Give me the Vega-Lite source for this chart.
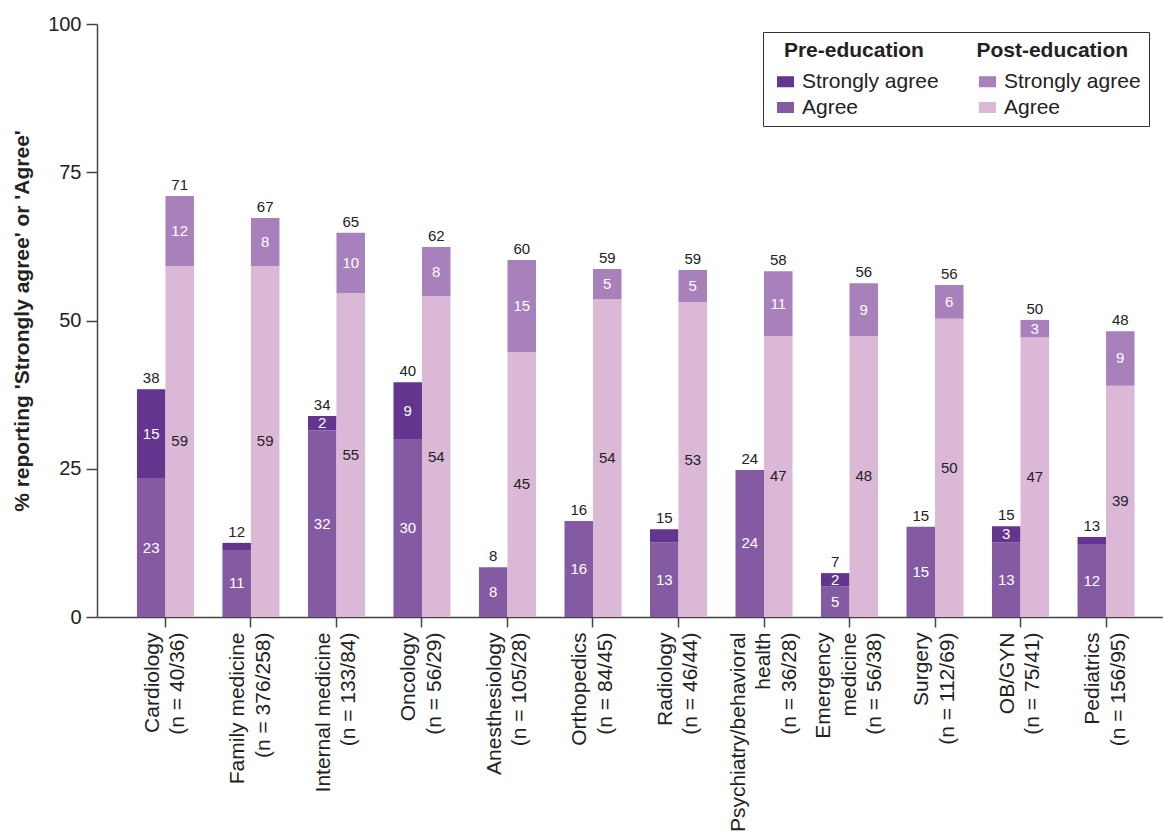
{
  "$schema": "https://vega.github.io/schema/vega-lite/v6.json",
  "width": 1066,
  "height": 593,
  "autosize": {"type": "none"},
  "padding": {"left": 97, "top": 24, "right": 0, "bottom": 214},
  "background": "white",
  "config": {
    "view": {"stroke": null},
    "font": "Liberation Sans",
    "axisY": {
      "domainColor": "#444", "domainWidth": 1.5, "tickColor": "#444", "tickWidth": 1.5, "tickSize": 11,
      "labelFontSize": 20, "labelColor": "#222", "labelPadding": 5, "grid": false,
      "titleFontSize": 21, "titleFontWeight": "bold", "titleColor": "#222", "titlePadding": 15
    },
    "axisX": {
      "domainColor": "#444", "domainWidth": 1.5, "tickColor": "#444", "tickWidth": 1.5, "tickSize": 10,
      "labelFontSize": 21, "labelColor": "#222", "labelAngle": -90, "labelPadding": 5,
      "labelLineHeight": 25.5, "labelLimit": 400, "grid": false
    },
    "legend": {
      "orient": "none", "legendX": 666, "legendY": 8, "columns": 2, "columnPadding": 34,
      "rowPadding": 4, "labelOffset": 6, "symbolOffset": 4, "padding": 8, "strokeColor": "#333", "fillColor": "white",
      "titleFontSize": 21, "titleFontWeight": "bold", "titleColor": "#222", "titleAnchor": "middle",
      "titleLimit": 500, "titlePadding": 10, "labelFontSize": 21, "labelColor": "#222", "labelLimit": 300,
      "symbolType": "M-1,-0.65H1V0.65H-1Z", "symbolSize": 289, "symbolStrokeWidth": 0, "symbolOpacity": 1
    }
  },
  "datasets": {
    "seg": [
      {"spec": "Cardiology\n(n = 40/36)", "period": "Pre", "series": "Pre: Agree", "value": 23.3, "label": "23"},
      {"spec": "Cardiology\n(n = 40/36)", "period": "Pre", "series": "Pre: Strongly agree", "value": 15.1, "label": "15"},
      {"spec": "Cardiology\n(n = 40/36)", "period": "Post", "series": "Post: Agree", "value": 59.2, "label": "59"},
      {"spec": "Cardiology\n(n = 40/36)", "period": "Post", "series": "Post: Strongly agree", "value": 11.8, "label": "12"},
      {"spec": "Family medicine\n(n = 376/258)", "period": "Pre", "series": "Pre: Agree", "value": 11.3, "label": "11"},
      {"spec": "Family medicine\n(n = 376/258)", "period": "Pre", "series": "Pre: Strongly agree", "value": 1.2, "label": ""},
      {"spec": "Family medicine\n(n = 376/258)", "period": "Post", "series": "Post: Agree", "value": 59.2, "label": "59"},
      {"spec": "Family medicine\n(n = 376/258)", "period": "Post", "series": "Post: Strongly agree", "value": 8.1, "label": "8"},
      {"spec": "Internal medicine\n(n = 133/84)", "period": "Pre", "series": "Pre: Agree", "value": 31.5, "label": "32"},
      {"spec": "Internal medicine\n(n = 133/84)", "period": "Pre", "series": "Pre: Strongly agree", "value": 2.4, "label": "2"},
      {"spec": "Internal medicine\n(n = 133/84)", "period": "Post", "series": "Post: Agree", "value": 54.6, "label": "55"},
      {"spec": "Internal medicine\n(n = 133/84)", "period": "Post", "series": "Post: Strongly agree", "value": 10.2, "label": "10"},
      {"spec": "Oncology\n(n = 56/29)", "period": "Pre", "series": "Pre: Agree", "value": 30.0, "label": "30"},
      {"spec": "Oncology\n(n = 56/29)", "period": "Pre", "series": "Pre: Strongly agree", "value": 9.6, "label": "9"},
      {"spec": "Oncology\n(n = 56/29)", "period": "Post", "series": "Post: Agree", "value": 54.1, "label": "54"},
      {"spec": "Oncology\n(n = 56/29)", "period": "Post", "series": "Post: Strongly agree", "value": 8.3, "label": "8"},
      {"spec": "Anesthesiology\n(n = 105/28)", "period": "Pre", "series": "Pre: Agree", "value": 8.4, "label": "8"},
      {"spec": "Anesthesiology\n(n = 105/28)", "period": "Post", "series": "Post: Agree", "value": 44.7, "label": "45"},
      {"spec": "Anesthesiology\n(n = 105/28)", "period": "Post", "series": "Post: Strongly agree", "value": 15.5, "label": "15"},
      {"spec": "Orthopedics\n(n = 84/45)", "period": "Pre", "series": "Pre: Agree", "value": 16.2, "label": "16"},
      {"spec": "Orthopedics\n(n = 84/45)", "period": "Post", "series": "Post: Agree", "value": 53.6, "label": "54"},
      {"spec": "Orthopedics\n(n = 84/45)", "period": "Post", "series": "Post: Strongly agree", "value": 5.1, "label": "5"},
      {"spec": "Radiology\n(n = 46/44)", "period": "Pre", "series": "Pre: Agree", "value": 12.6, "label": "13"},
      {"spec": "Radiology\n(n = 46/44)", "period": "Pre", "series": "Pre: Strongly agree", "value": 2.2, "label": ""},
      {"spec": "Radiology\n(n = 46/44)", "period": "Post", "series": "Post: Agree", "value": 53.1, "label": "53"},
      {"spec": "Radiology\n(n = 46/44)", "period": "Post", "series": "Post: Strongly agree", "value": 5.4, "label": "5"},
      {"spec": "Psychiatry/behavioral\nhealth\n(n = 36/28)", "period": "Pre", "series": "Pre: Agree", "value": 24.8, "label": "24"},
      {"spec": "Psychiatry/behavioral\nhealth\n(n = 36/28)", "period": "Post", "series": "Post: Agree", "value": 47.4, "label": "47"},
      {"spec": "Psychiatry/behavioral\nhealth\n(n = 36/28)", "period": "Post", "series": "Post: Strongly agree", "value": 10.9, "label": "11"},
      {"spec": "Emergency\nmedicine\n(n = 56/38)", "period": "Pre", "series": "Pre: Agree", "value": 5.2, "label": "5"},
      {"spec": "Emergency\nmedicine\n(n = 56/38)", "period": "Pre", "series": "Pre: Strongly agree", "value": 2.2, "label": "2"},
      {"spec": "Emergency\nmedicine\n(n = 56/38)", "period": "Post", "series": "Post: Agree", "value": 47.4, "label": "48"},
      {"spec": "Emergency\nmedicine\n(n = 56/38)", "period": "Post", "series": "Post: Strongly agree", "value": 8.9, "label": "9"},
      {"spec": "Surgery\n(n = 112/69)", "period": "Pre", "series": "Pre: Agree", "value": 15.2, "label": "15"},
      {"spec": "Surgery\n(n = 112/69)", "period": "Post", "series": "Post: Agree", "value": 50.3, "label": "50"},
      {"spec": "Surgery\n(n = 112/69)", "period": "Post", "series": "Post: Strongly agree", "value": 5.7, "label": "6"},
      {"spec": "OB/GYN\n(n = 75/41)", "period": "Pre", "series": "Pre: Agree", "value": 12.6, "label": "13"},
      {"spec": "OB/GYN\n(n = 75/41)", "period": "Pre", "series": "Pre: Strongly agree", "value": 2.7, "label": "3"},
      {"spec": "OB/GYN\n(n = 75/41)", "period": "Post", "series": "Post: Agree", "value": 47.2, "label": "47"},
      {"spec": "OB/GYN\n(n = 75/41)", "period": "Post", "series": "Post: Strongly agree", "value": 2.9, "label": "3"},
      {"spec": "Pediatrics\n(n = 156/95)", "period": "Pre", "series": "Pre: Agree", "value": 12.3, "label": "12"},
      {"spec": "Pediatrics\n(n = 156/95)", "period": "Pre", "series": "Pre: Strongly agree", "value": 1.2, "label": ""},
      {"spec": "Pediatrics\n(n = 156/95)", "period": "Post", "series": "Post: Agree", "value": 39.0, "label": "39"},
      {"spec": "Pediatrics\n(n = 156/95)", "period": "Post", "series": "Post: Strongly agree", "value": 9.2, "label": "9"}
    ],
    "tot": [
      {"spec": "Cardiology\n(n = 40/36)", "period": "Pre", "total": 38.4, "label": "38"},
      {"spec": "Cardiology\n(n = 40/36)", "period": "Post", "total": 71.0, "label": "71"},
      {"spec": "Family medicine\n(n = 376/258)", "period": "Pre", "total": 12.5, "label": "12"},
      {"spec": "Family medicine\n(n = 376/258)", "period": "Post", "total": 67.3, "label": "67"},
      {"spec": "Internal medicine\n(n = 133/84)", "period": "Pre", "total": 33.9, "label": "34"},
      {"spec": "Internal medicine\n(n = 133/84)", "period": "Post", "total": 64.8, "label": "65"},
      {"spec": "Oncology\n(n = 56/29)", "period": "Pre", "total": 39.6, "label": "40"},
      {"spec": "Oncology\n(n = 56/29)", "period": "Post", "total": 62.4, "label": "62"},
      {"spec": "Anesthesiology\n(n = 105/28)", "period": "Pre", "total": 8.4, "label": "8"},
      {"spec": "Anesthesiology\n(n = 105/28)", "period": "Post", "total": 60.2, "label": "60"},
      {"spec": "Orthopedics\n(n = 84/45)", "period": "Pre", "total": 16.2, "label": "16"},
      {"spec": "Orthopedics\n(n = 84/45)", "period": "Post", "total": 58.7, "label": "59"},
      {"spec": "Radiology\n(n = 46/44)", "period": "Pre", "total": 14.8, "label": "15"},
      {"spec": "Radiology\n(n = 46/44)", "period": "Post", "total": 58.5, "label": "59"},
      {"spec": "Psychiatry/behavioral\nhealth\n(n = 36/28)", "period": "Pre", "total": 24.8, "label": "24"},
      {"spec": "Psychiatry/behavioral\nhealth\n(n = 36/28)", "period": "Post", "total": 58.3, "label": "58"},
      {"spec": "Emergency\nmedicine\n(n = 56/38)", "period": "Pre", "total": 7.4, "label": "7"},
      {"spec": "Emergency\nmedicine\n(n = 56/38)", "period": "Post", "total": 56.3, "label": "56"},
      {"spec": "Surgery\n(n = 112/69)", "period": "Pre", "total": 15.2, "label": "15"},
      {"spec": "Surgery\n(n = 112/69)", "period": "Post", "total": 56.0, "label": "56"},
      {"spec": "OB/GYN\n(n = 75/41)", "period": "Pre", "total": 15.3, "label": "15"},
      {"spec": "OB/GYN\n(n = 75/41)", "period": "Post", "total": 50.1, "label": "50"},
      {"spec": "Pediatrics\n(n = 156/95)", "period": "Pre", "total": 13.5, "label": "13"},
      {"spec": "Pediatrics\n(n = 156/95)", "period": "Post", "total": 48.2, "label": "48"}
    ]
  },
  "encoding": {
    "x": {
      "field": "spec", "type": "nominal",
      "sort": ["Cardiology\n(n = 40/36)", "Family medicine\n(n = 376/258)", "Internal medicine\n(n = 133/84)", "Oncology\n(n = 56/29)", "Anesthesiology\n(n = 105/28)", "Orthopedics\n(n = 84/45)", "Radiology\n(n = 46/44)", "Psychiatry/behavioral\nhealth\n(n = 36/28)", "Emergency\nmedicine\n(n = 56/38)", "Surgery\n(n = 112/69)", "OB/GYN\n(n = 75/41)", "Pediatrics\n(n = 156/95)"],
      "scale": {"paddingInner": 0.3333, "paddingOuter": 0.4, "align": 0.584},
      "axis": {
        "title": null,
        "labelExpr": "split(datum.label, '\\n')",
        "labelOffset": {"condition": {"test": "length(split(datum.value, '\\n')) == 3", "value": -25.5}, "value": -12.75}
      }
    },
    "xOffset": {"field": "period", "type": "nominal", "sort": ["Pre", "Post"], "scale": {"paddingInner": 0, "paddingOuter": 0}}
  },
  "layer": [
    {
      "data": {"name": "seg"},
      "mark": {"type": "bar", "strokeWidth": 0},
      "encoding": {
        "y": {
          "field": "value", "type": "quantitative", "stack": "zero",
          "scale": {"domain": [0, 100], "nice": false},
          "title": "% reporting 'Strongly agree' or 'Agree'",
          "axis": {"values": [0, 25, 50, 75, 100]}
        },
        "color": {
          "field": "series", "type": "nominal",
          "scale": {
            "domain": ["Pre: Strongly agree", "Pre: Agree", "Post: Strongly agree", "Post: Agree"],
            "range": ["#63358f", "#845aa3", "#a880bb", "#dcb8d7"]
          },
          "legend": {
            "title": "\u00a0\u00a0\u00a0\u00a0Pre-education\u00a0\u00a0\u00a0\u00a0\u00a0\u00a0\u00a0\u00a0\u00a0Post-education",
            "labelExpr": "split(datum.label, ': ')[1]"
          }
        },
        "order": {"field": "series", "sort": "ascending"}
      }
    },
    {
      "data": {"name": "seg"},
      "transform": [
        {"stack": "value", "groupby": ["spec", "period"], "sort": [{"field": "series", "order": "ascending"}], "as": ["v0", "v1"]},
        {"fold": ["v0", "v1"], "as": ["edge", "pos"]},
        {"aggregate": [{"op": "mean", "field": "pos", "as": "mid"}], "groupby": ["spec", "period", "series", "label"]},
        {"filter": "datum.label != ''"}
      ],
      "mark": {"type": "text", "fontSize": 15, "align": "center", "baseline": "middle"},
      "encoding": {
        "y": {"field": "mid", "type": "quantitative", "title": "% reporting 'Strongly agree' or 'Agree'"},
        "text": {"field": "label"},
        "color": {"condition": {"test": "datum.series == 'Post: Agree'", "value": "#222222"}, "value": "#ffffff"}
      }
    },
    {
      "data": {"name": "tot"},
      "mark": {"type": "text", "fontSize": 15, "align": "center", "baseline": "bottom", "dy": -3, "color": "#222222"},
      "encoding": {
        "y": {"field": "total", "type": "quantitative", "title": "% reporting 'Strongly agree' or 'Agree'"},
        "text": {"field": "label"}
      }
    }
  ]
}
